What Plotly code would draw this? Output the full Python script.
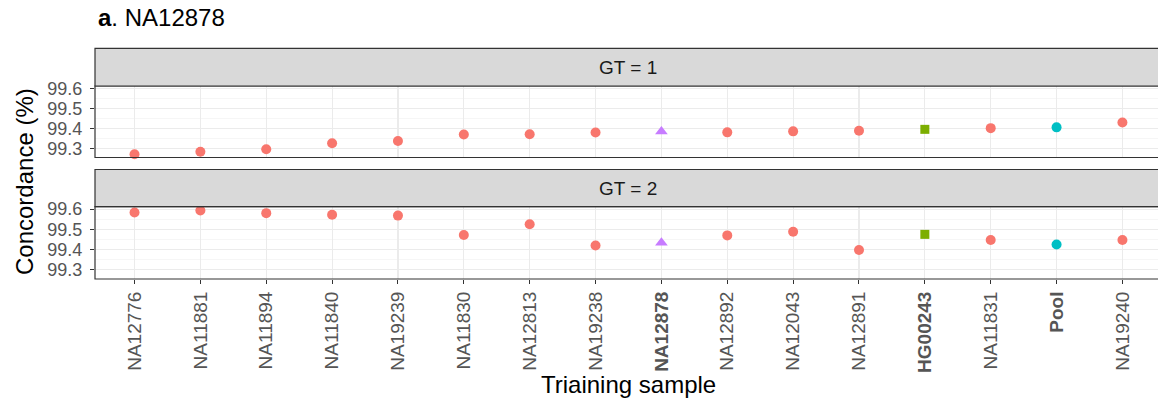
import plotly.graph_objects as go

# ---------------- data ----------------
categories = ["NA12776", "NA11881", "NA11894", "NA11840", "NA19239", "NA11830",
              "NA12813", "NA19238", "NA12878", "NA12892", "NA12043", "NA12891",
              "HG00243", "NA11831", "Pool", "NA19240"]
gt1_values = [99.270, 99.283, 99.295, 99.325, 99.337, 99.369, 99.370, 99.379,
              99.384, 99.380, 99.385, 99.388, 99.395, 99.401, 99.405, 99.429]
gt2_values = [99.583, 99.593, 99.580, 99.572, 99.568, 99.472, 99.525, 99.420,
              99.434, 99.470, 99.488, 99.398, 99.475, 99.447, 99.425, 99.447]
sample_group = ["train", "train", "train", "train", "train", "train",
                "train", "train", "self", "train", "train", "train",
                "hg", "train", "pool", "train"]
bold_labels = ["NA12878", "HG00243", "Pool"]
facet_labels = ["GT = 1", "GT = 2"]
y_ticks = [99.3, 99.4, 99.5, 99.6]
y_minor = [99.25, 99.35, 99.45, 99.55]
title_text = "<b>a</b>. NA12878"
x_title = "Triaining sample"
y_title = "Concordance (%)"

group_color = {"train": "#F8766D", "hg": "#7CAE00", "pool": "#00BFC4", "self": "#C77CFF"}
group_symbol = {"train": "circle", "hg": "square", "pool": "circle", "self": "triangle-up"}
group_size = {"train": 10, "hg": 9, "pool": 10, "self": 11}

# ---------------- geometry ----------------
W, H = 1158, 404
MT, MB, ML, MR = 48, 125, 95, 0
plot_h = H - MT - MB


def py(y):
    return (H - MB - y) / plot_h


def px(x):
    return (x - ML) / (W - ML - MR)


p1 = [py(157.5), py(86)]
p2 = [0.0, py(206.7)]
s1 = [py(86), py(48.3)]
s2 = [py(206.7), py(169.5)]

FONT = "Liberation Sans, Arial, sans-serif"
fig = go.Figure()

for panel, vals in enumerate([gt1_values, gt2_values]):
    xa = "x2" if panel == 0 else "x"
    ya = "y2" if panel == 0 else "y"
    for g in ["train", "self", "hg", "pool"]:
        xs = [c for c, gg in zip(categories, sample_group) if gg == g]
        ys = [v for v, gg in zip(vals, sample_group) if gg == g]
        fig.add_trace(go.Scatter(
            x=xs, y=ys, mode="markers", xaxis=xa, yaxis=ya, showlegend=False,
            marker=dict(color=group_color[g], symbol=group_symbol[g],
                        size=group_size[g], line=dict(width=0)),
            cliponaxis=False,
        ))

ticktext = [f"<b>{c}</b>" if c in bold_labels else c for c in categories]
xrange = [-0.6, len(categories) - 1 + 0.54]
yrange = [99.254, 99.612]

common_x = dict(type="category", categoryorder="array", categoryarray=categories,
                range=xrange, showgrid=True, gridcolor="#EBEBEB", gridwidth=1.1,
                zeroline=False, showline=False)
fig.update_layout(
    xaxis=dict(**common_x, domain=[0, 1], anchor="y", tickmode="array",
               tickvals=categories, ticktext=ticktext, tickangle=-90,
               ticks="outside", ticklen=4, tickcolor="#333333", tickwidth=1,
               automargin=False,
               tickfont=dict(family=FONT, size=19, color="#555555")),
    xaxis2=dict(**common_x, domain=[0, 1], anchor="y2", matches="x",
                showticklabels=False, ticks=""),
)
common_y = dict(range=yrange, tickmode="array", tickvals=y_ticks,
                ticktext=[f"{v:.1f}" for v in y_ticks],
                showgrid=True, gridcolor="#EBEBEB", gridwidth=1.1,
                zeroline=False, showline=False, ticks="outside", ticklen=4,
                tickcolor="#333333", tickwidth=1, ticklabelstandoff=4,
                automargin=False,
                tickfont=dict(family=FONT, size=18, color="#555555"),
                minor=dict(tickmode="array", tickvals=y_minor, showgrid=True,
                           gridcolor="#F2F2F2", gridwidth=0.7, ticks=""))
fig.update_layout(
    yaxis=dict(**common_y, domain=p2, anchor="x"),
    yaxis2=dict(**common_y, domain=p1, anchor="x2"),
)

shapes = []
for dom in (p1, p2):
    shapes.append(dict(type="rect", xref="paper", yref="paper", x0=0, x1=1.02,
                       y0=dom[0], y1=dom[1], line=dict(color="#333333", width=1.2),
                       fillcolor="rgba(0,0,0,0)", layer="above"))
for dom in (s1, s2):
    shapes.append(dict(type="rect", xref="paper", yref="paper", x0=0, x1=1.02,
                       y0=dom[0], y1=dom[1], line=dict(color="#333333", width=1.2),
                       fillcolor="#D9D9D9", layer="above"))

annotations = []
strip_center_x = px((94.5 + 1162) / 2)
for dom, lab in zip((s1, s2), facet_labels):
    annotations.append(dict(text=lab, xref="paper", yref="paper", x=strip_center_x,
                            y=(dom[0] + dom[1]) / 2, showarrow=False,
                            xanchor="center", yanchor="middle",
                            font=dict(family=FONT, size=19, color="#1A1A1A")))
annotations.append(dict(text=title_text, xref="paper", yref="paper", x=px(96),
                        y=py(18), xanchor="left", yanchor="middle", showarrow=False,
                        font=dict(family=FONT, size=24, color="#000000")))
annotations.append(dict(text=x_title, xref="paper", yref="paper", x=strip_center_x,
                        y=py(384), xanchor="center", yanchor="middle", showarrow=False,
                        font=dict(family=FONT, size=24, color="#000000")))
annotations.append(dict(text=y_title, xref="paper", yref="paper", x=px(24),
                        y=py(182), xanchor="center", yanchor="middle", showarrow=False,
                        textangle=-90,
                        font=dict(family=FONT, size=24, color="#000000")))

fig.update_layout(
    width=W, height=H, margin=dict(l=ML, r=MR, t=MT, b=MB, pad=0),
    paper_bgcolor="white", plot_bgcolor="white", showlegend=False,
    shapes=shapes, annotations=annotations,
    font=dict(family=FONT),
)

fig.write_html("out.html",
               config={"displayModeBar": False, "staticPlot": True},
               post_script="document.body.style.margin='0';"
                           "document.body.style.overflow='hidden';")
